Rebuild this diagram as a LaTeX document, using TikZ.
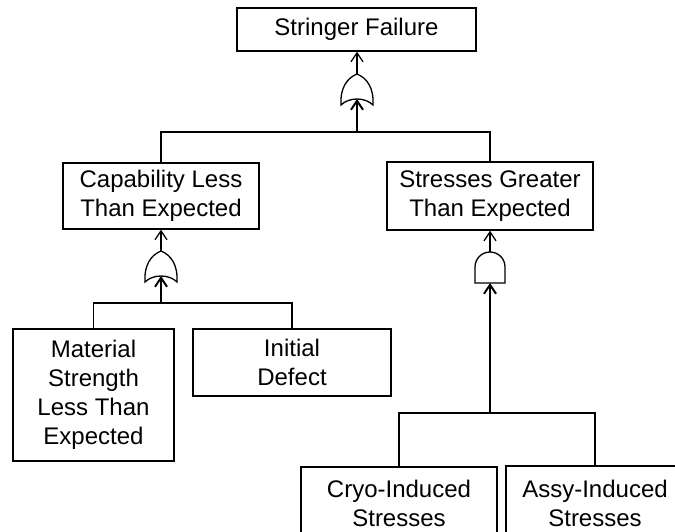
\documentclass[tikz,border=0pt]{standalone}
\usepackage{fontspec}
\setmainfont{Liberation Sans}
\usetikzlibrary{arrows.meta}
\tikzset{
  box/.style={draw, line width=1.3pt, inner sep=0pt, align=center,
    font=\fontsize{24}{29}\selectfont},
  wire/.style={line width=1.3pt},
  stem/.style={line width=2pt},
  arr/.style={-{Straight Barb[length=9pt,width=12pt]}},
  gate/.style={draw, line width=1.3pt, fill=white},
  orgate/.pic={\draw[gate] (-16,31) .. controls (-17,14) and (-10,4) .. (0,0)
      .. controls (10,4) and (17,14) .. (16,31)
      .. controls (8,23) and (-8,23) .. cycle;},
  andgate/.pic={\draw[gate] (-15,31) -- (-15,15)
      .. controls (-15,6.7) and (-8.3,0) .. (0,0)
      .. controls (8.3,0) and (15,6.7) .. (15,15) -- (15,31) -- cycle;}
}
\begin{document}
\begin{tikzpicture}[x=1pt,y=-1pt]
\useasboundingbox (0,0) rectangle (675,532);
\clip (0,0) rectangle (675,532);
% boxes
\node[box, minimum width=239pt, minimum height=43pt] (top) at (356.5,29.5) {Stringer Failure};
\node[box, minimum width=196pt, minimum height=66pt] (cap) at (161,196) {Capability Less\\Than Expected};
\node[box, minimum width=206pt, minimum height=68pt] (str) at (490,196) {Stresses Greater\\Than Expected};
\node[box, minimum width=161pt, minimum height=132pt] (mat) at (93.5,395) {Material\\Strength\\Less Than\\Expected};
\node[box, minimum width=198pt, minimum height=67pt] (init) at (292,362.5) {Initial\\Defect};
\node[box, minimum width=196pt, minimum height=73pt] (cryo) at (399,503.5) {Cryo-Induced\\Stresses};
\node[box, minimum width=178pt, minimum height=74pt] (assy) at (595,503) {Assy-Induced\\Stresses};
% gates
\pic at (357,74) {orgate};
\pic at (161,251) {orgate};
\pic at (490,252) {andgate};
\coordinate (g1o) at (357,74);
\coordinate (g1i) at (357,99);
\coordinate (g2o) at (161,251);
\coordinate (g2i) at (161,276);
\coordinate (g3o) at (490,252);
\coordinate (g3i) at (490,283);
\coordinate (j1) at (357,132);
\coordinate (j2) at (161,303);
\coordinate (j3) at (490,413);
% outputs
\draw[wire,arr] (g1o) -- (g1o |- top.south);
\draw[wire,arr] (g2o) -- (g2o |- cap.south);
\draw[wire,arr] (g3o) -- (g3o |- str.south);
% bars
\draw[wire] (cap.north) |- (j1) -| (str.north);
\draw[wire] (mat.north) |- (j2) -| (init.north);
\draw[wire] (cryo.north) |- (j3) -| (assy.north);
% inputs
\draw[stem,arr] (j1) -- (g1i);
\draw[stem,arr] (j2) -- (g2i);
\draw[stem,arr] (j3) -- (g3i);
\end{tikzpicture}
\end{document}
